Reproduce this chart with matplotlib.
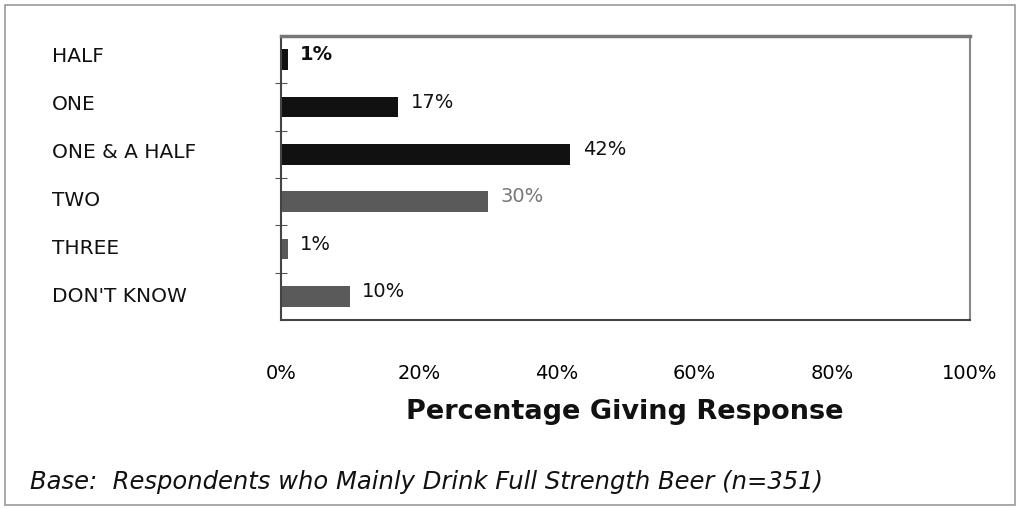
import matplotlib
matplotlib.use("Agg")
import matplotlib.pyplot as plt
from matplotlib.patches import Rectangle

categories = ["HALF", "ONE", "ONE & A HALF", "TWO", "THREE", "DON'T KNOW"]
values = [1, 17, 42, 30, 1, 10]
bar_colors = ["#111111", "#111111", "#111111", "#5a5a5a", "#5a5a5a", "#5a5a5a"]
label_colors = ["#111111", "#111111", "#111111", "#777777", "#111111", "#111111"]
xticks = [0, 20, 40, 60, 80, 100]
xticklabels = ["0%", "20%", "40%", "60%", "80%", "100%"]

plt.rcParams['font.family'] = ['DejaVu Sans']

fig = plt.figure(figsize=(10.24, 5.08), dpi=100)
ax = fig.add_axes([281/1024, 1-320/508, (970-281)/1024, (320-36)/508])

ypos = list(range(len(categories)))
ax.barh(ypos, values, height=0.44, color=bar_colors)
ax.set_ylim(len(categories)-0.5, -0.5)
ax.set_xlim(0, 100)

for i, v in enumerate(values):
    ax.text(v + 1.8, i - 0.1, f"{v}%", va="center", ha="left", fontsize=14,
            color=label_colors[i], fontweight="bold" if i == 0 else "normal")

ax.set_yticks([i + 0.5 for i in range(len(categories) - 1)])
ax.set_yticklabels([])
ax.tick_params(axis="y", direction="inout", length=8, color="#555555")
for i, c in enumerate(categories):
    fig.text(52/1024, 1 - (57 + i*47.8)/508, c, ha="left", va="center", fontsize=14.5, color="#111111")

ax.set_xticks(xticks)
ax.set_xticklabels(xticklabels, fontsize=14)
ax.tick_params(axis="x", length=0, pad=32)

for s in ["left", "bottom"]:
    ax.spines[s].set_color("#444444")
    ax.spines[s].set_linewidth(1.5)
ax.spines["top"].set_color("#777777")
ax.spines["top"].set_linewidth(2.5)
ax.spines["right"].set_color("#888888")
ax.spines["right"].set_linewidth(1.5)

fig.text(625/1024, 1 - 412/508, "Percentage Giving Response", ha="center", va="center",
         fontsize=19.5, fontweight="bold", color="#111111")
fig.text(30/1024, 1 - 482/508, "Base:  Respondents who Mainly Drink Full Strength Beer (n=351)",
         ha="left", va="center", fontsize=17.5, style="italic", color="#111111")

fig.patches.append(Rectangle((5/1024, 3/508), 1010/1024, 500/508, transform=fig.transFigure,
                             fill=False, edgecolor="#999999", linewidth=1.2))

fig.savefig("out.png", dpi=100)
